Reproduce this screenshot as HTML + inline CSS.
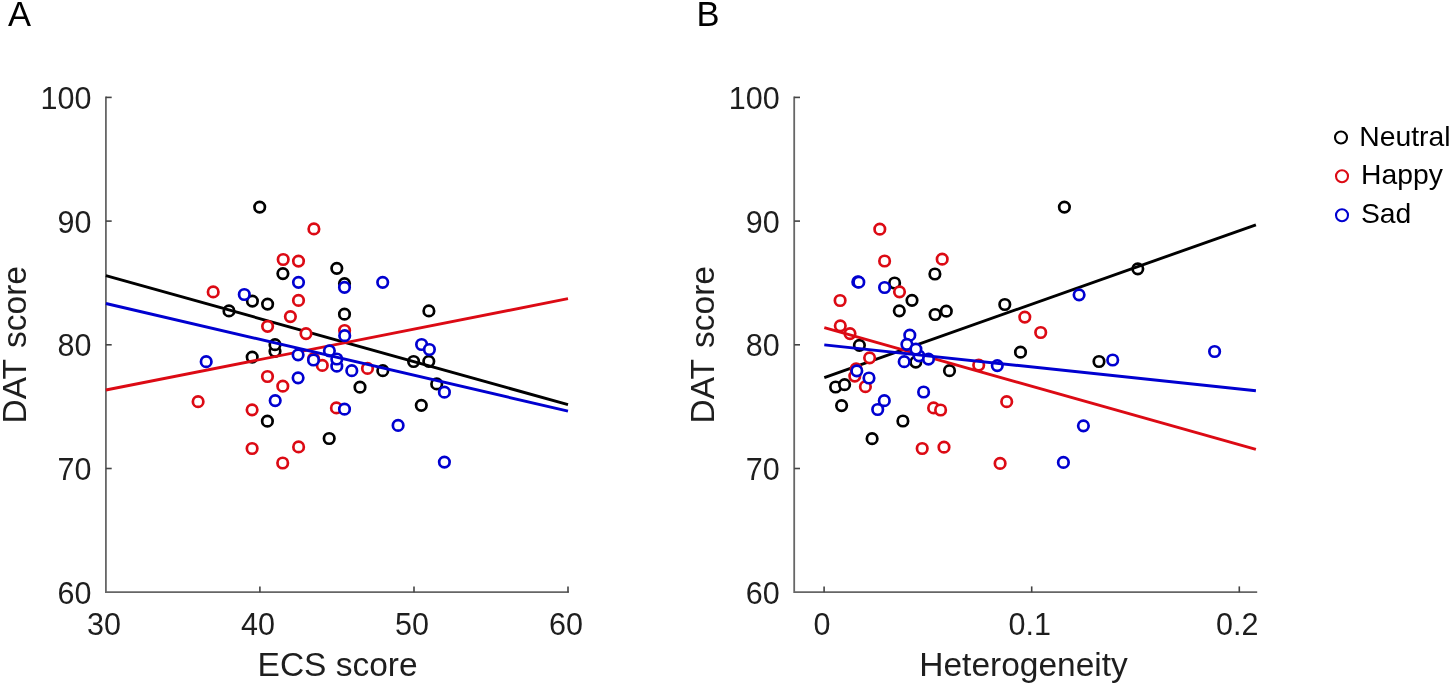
<!DOCTYPE html>
<html><head><meta charset="utf-8"><style>
html,body{margin:0;padding:0;background:#fff;}
body{width:1450px;height:686px;overflow:hidden;}
svg{display:block;filter:blur(0.4px);}
text{font-family:"Liberation Sans",sans-serif;fill:#1e1e1e;}
.k{fill:#000;}
</style></head><body>
<svg width="1450" height="686" viewBox="0 0 1450 686">
<rect width="1450" height="686" fill="#fff"/>
<path d="M105.9 97.4V592.2H568.0" stroke="#666" stroke-width="1.8" fill="none" stroke-linejoin="miter" stroke-linecap="square"/>
<text x="91.4" y="603.8" font-size="30.5" text-anchor="end">60</text>
<line x1="105.9" y1="468.5" x2="111.7" y2="468.5" stroke="#444" stroke-width="1.6"/>
<text x="91.4" y="480.1" font-size="30.5" text-anchor="end">70</text>
<line x1="105.9" y1="344.8" x2="111.7" y2="344.8" stroke="#444" stroke-width="1.6"/>
<text x="91.4" y="356.4" font-size="30.5" text-anchor="end">80</text>
<line x1="105.9" y1="221.1" x2="111.7" y2="221.1" stroke="#444" stroke-width="1.6"/>
<text x="91.4" y="232.7" font-size="30.5" text-anchor="end">90</text>
<line x1="105.9" y1="97.4" x2="111.7" y2="97.4" stroke="#444" stroke-width="1.6"/>
<text x="91.4" y="109.0" font-size="30.5" text-anchor="end">100</text>
<text x="103.9" y="634.8" font-size="30.5" text-anchor="middle">30</text>
<line x1="259.9" y1="592.2" x2="259.9" y2="586.4" stroke="#444" stroke-width="1.6"/>
<text x="257.9" y="634.8" font-size="30.5" text-anchor="middle">40</text>
<line x1="414.0" y1="592.2" x2="414.0" y2="586.4" stroke="#444" stroke-width="1.6"/>
<text x="412.0" y="634.8" font-size="30.5" text-anchor="middle">50</text>
<line x1="568.0" y1="592.2" x2="568.0" y2="586.4" stroke="#444" stroke-width="1.6"/>
<text x="566.0" y="634.8" font-size="30.5" text-anchor="middle">60</text>
<text x="337.6" y="676.3" font-size="33.5" text-anchor="middle">ECS score</text>
<text x="0" y="0" font-size="33.5" text-anchor="start" transform="translate(25.6,423.5) rotate(-90)">DAT</text>
<text x="0" y="0" font-size="33.5" text-anchor="end" transform="translate(25.6,266.0) rotate(-90)">score</text>
<circle cx="259.7" cy="207.1" r="5.25" stroke="#000" stroke-width="2.7" fill="#fff"/>
<circle cx="282.9" cy="273.6" r="5.25" stroke="#000" stroke-width="2.7" fill="#fff"/>
<circle cx="336.8" cy="268.3" r="5.25" stroke="#000" stroke-width="2.7" fill="#fff"/>
<circle cx="344.5" cy="283.6" r="5.25" stroke="#000" stroke-width="2.7" fill="#fff"/>
<circle cx="252.4" cy="301.1" r="5.25" stroke="#000" stroke-width="2.7" fill="#fff"/>
<circle cx="267.6" cy="304.1" r="5.25" stroke="#000" stroke-width="2.7" fill="#fff"/>
<circle cx="229.0" cy="310.9" r="5.25" stroke="#000" stroke-width="2.7" fill="#fff"/>
<circle cx="344.5" cy="314.2" r="5.25" stroke="#000" stroke-width="2.7" fill="#fff"/>
<circle cx="428.9" cy="310.9" r="5.25" stroke="#000" stroke-width="2.7" fill="#fff"/>
<circle cx="275.0" cy="351.3" r="5.25" stroke="#000" stroke-width="2.7" fill="#fff"/>
<circle cx="275.0" cy="344.7" r="5.25" stroke="#000" stroke-width="2.7" fill="#fff"/>
<circle cx="252.2" cy="357.1" r="5.25" stroke="#000" stroke-width="2.7" fill="#fff"/>
<circle cx="413.6" cy="361.5" r="5.25" stroke="#000" stroke-width="2.7" fill="#fff"/>
<circle cx="428.8" cy="361.3" r="5.25" stroke="#000" stroke-width="2.7" fill="#fff"/>
<circle cx="382.8" cy="370.7" r="5.25" stroke="#000" stroke-width="2.7" fill="#fff"/>
<circle cx="436.7" cy="383.9" r="5.25" stroke="#000" stroke-width="2.7" fill="#fff"/>
<circle cx="360.0" cy="387.2" r="5.25" stroke="#000" stroke-width="2.7" fill="#fff"/>
<circle cx="421.3" cy="405.3" r="5.25" stroke="#000" stroke-width="2.7" fill="#fff"/>
<circle cx="267.4" cy="421.2" r="5.25" stroke="#000" stroke-width="2.7" fill="#fff"/>
<circle cx="329.2" cy="438.5" r="5.25" stroke="#000" stroke-width="2.7" fill="#fff"/>
<line x1="105.9" y1="275.6" x2="568.0" y2="404.7" stroke="#000" stroke-width="2.9"/>
<circle cx="313.9" cy="228.9" r="5.25" stroke="#dc0a14" stroke-width="2.7" fill="#fff"/>
<circle cx="283.2" cy="259.5" r="5.25" stroke="#dc0a14" stroke-width="2.7" fill="#fff"/>
<circle cx="298.5" cy="261.1" r="5.25" stroke="#dc0a14" stroke-width="2.7" fill="#fff"/>
<circle cx="213.2" cy="291.9" r="5.25" stroke="#dc0a14" stroke-width="2.7" fill="#fff"/>
<circle cx="298.5" cy="300.4" r="5.25" stroke="#dc0a14" stroke-width="2.7" fill="#fff"/>
<circle cx="290.4" cy="316.6" r="5.25" stroke="#dc0a14" stroke-width="2.7" fill="#fff"/>
<circle cx="267.6" cy="326.3" r="5.25" stroke="#dc0a14" stroke-width="2.7" fill="#fff"/>
<circle cx="306.0" cy="333.6" r="5.25" stroke="#dc0a14" stroke-width="2.7" fill="#fff"/>
<circle cx="344.6" cy="330.5" r="5.25" stroke="#dc0a14" stroke-width="2.7" fill="#fff"/>
<circle cx="313.6" cy="358.6" r="5.25" stroke="#dc0a14" stroke-width="2.7" fill="#fff"/>
<circle cx="322.3" cy="365.4" r="5.25" stroke="#dc0a14" stroke-width="2.7" fill="#fff"/>
<circle cx="367.5" cy="368.4" r="5.25" stroke="#dc0a14" stroke-width="2.7" fill="#fff"/>
<circle cx="267.5" cy="376.5" r="5.25" stroke="#dc0a14" stroke-width="2.7" fill="#fff"/>
<circle cx="282.8" cy="386.2" r="5.25" stroke="#dc0a14" stroke-width="2.7" fill="#fff"/>
<circle cx="198.1" cy="401.7" r="5.25" stroke="#dc0a14" stroke-width="2.7" fill="#fff"/>
<circle cx="252.1" cy="409.8" r="5.25" stroke="#dc0a14" stroke-width="2.7" fill="#fff"/>
<circle cx="336.4" cy="407.9" r="5.25" stroke="#dc0a14" stroke-width="2.7" fill="#fff"/>
<circle cx="252.1" cy="448.5" r="5.25" stroke="#dc0a14" stroke-width="2.7" fill="#fff"/>
<circle cx="298.6" cy="446.9" r="5.25" stroke="#dc0a14" stroke-width="2.7" fill="#fff"/>
<circle cx="282.7" cy="463.0" r="5.25" stroke="#dc0a14" stroke-width="2.7" fill="#fff"/>
<line x1="105.9" y1="390.0" x2="568.0" y2="298.7" stroke="#dc0a14" stroke-width="2.9"/>
<circle cx="244.3" cy="294.5" r="5.25" stroke="#0000d0" stroke-width="2.7" fill="#fff"/>
<circle cx="298.5" cy="282.3" r="5.25" stroke="#0000d0" stroke-width="2.7" fill="#fff"/>
<circle cx="344.5" cy="287.3" r="5.25" stroke="#0000d0" stroke-width="2.7" fill="#fff"/>
<circle cx="382.7" cy="282.3" r="5.25" stroke="#0000d0" stroke-width="2.7" fill="#fff"/>
<circle cx="344.7" cy="335.7" r="5.25" stroke="#0000d0" stroke-width="2.7" fill="#fff"/>
<circle cx="298.1" cy="354.8" r="5.25" stroke="#0000d0" stroke-width="2.7" fill="#fff"/>
<circle cx="313.5" cy="360.0" r="5.25" stroke="#0000d0" stroke-width="2.7" fill="#fff"/>
<circle cx="329.4" cy="350.8" r="5.25" stroke="#0000d0" stroke-width="2.7" fill="#fff"/>
<circle cx="336.8" cy="366.2" r="5.25" stroke="#0000d0" stroke-width="2.7" fill="#fff"/>
<circle cx="336.8" cy="359.0" r="5.25" stroke="#0000d0" stroke-width="2.7" fill="#fff"/>
<circle cx="351.8" cy="370.7" r="5.25" stroke="#0000d0" stroke-width="2.7" fill="#fff"/>
<circle cx="298.1" cy="377.8" r="5.25" stroke="#0000d0" stroke-width="2.7" fill="#fff"/>
<circle cx="206.2" cy="361.7" r="5.25" stroke="#0000d0" stroke-width="2.7" fill="#fff"/>
<circle cx="275.2" cy="400.6" r="5.25" stroke="#0000d0" stroke-width="2.7" fill="#fff"/>
<circle cx="344.5" cy="409.2" r="5.25" stroke="#0000d0" stroke-width="2.7" fill="#fff"/>
<circle cx="398.1" cy="425.4" r="5.25" stroke="#0000d0" stroke-width="2.7" fill="#fff"/>
<circle cx="421.6" cy="344.5" r="5.25" stroke="#0000d0" stroke-width="2.7" fill="#fff"/>
<circle cx="429.4" cy="349.5" r="5.25" stroke="#0000d0" stroke-width="2.7" fill="#fff"/>
<circle cx="444.4" cy="392.2" r="5.25" stroke="#0000d0" stroke-width="2.7" fill="#fff"/>
<circle cx="444.4" cy="462.1" r="5.25" stroke="#0000d0" stroke-width="2.7" fill="#fff"/>
<line x1="105.9" y1="303.5" x2="568.0" y2="411.1" stroke="#0000d0" stroke-width="2.9"/>
<path d="M794.2 97.4V592.2H1256.3" stroke="#666" stroke-width="1.8" fill="none" stroke-linejoin="miter" stroke-linecap="square"/>
<text x="779.7" y="603.8" font-size="30.5" text-anchor="end">60</text>
<line x1="794.2" y1="468.5" x2="800.0" y2="468.5" stroke="#444" stroke-width="1.6"/>
<text x="779.7" y="480.1" font-size="30.5" text-anchor="end">70</text>
<line x1="794.2" y1="344.8" x2="800.0" y2="344.8" stroke="#444" stroke-width="1.6"/>
<text x="779.7" y="356.4" font-size="30.5" text-anchor="end">80</text>
<line x1="794.2" y1="221.1" x2="800.0" y2="221.1" stroke="#444" stroke-width="1.6"/>
<text x="779.7" y="232.7" font-size="30.5" text-anchor="end">90</text>
<line x1="794.2" y1="97.4" x2="800.0" y2="97.4" stroke="#444" stroke-width="1.6"/>
<text x="779.7" y="109.0" font-size="30.5" text-anchor="end">100</text>
<line x1="824.1" y1="592.2" x2="824.1" y2="586.4" stroke="#444" stroke-width="1.6"/>
<text x="822.1" y="634.8" font-size="30.5" text-anchor="middle">0</text>
<line x1="1031.7" y1="592.2" x2="1031.7" y2="586.4" stroke="#444" stroke-width="1.6"/>
<text x="1029.7" y="634.8" font-size="30.5" text-anchor="middle">0.1</text>
<line x1="1239.3" y1="592.2" x2="1239.3" y2="586.4" stroke="#444" stroke-width="1.6"/>
<text x="1237.3" y="634.8" font-size="30.5" text-anchor="middle">0.2</text>
<text x="1023.6" y="676.3" font-size="33.5" text-anchor="middle">Heterogeneity</text>
<text x="0" y="0" font-size="33.5" text-anchor="start" transform="translate(713.9,423.5) rotate(-90)">DAT</text>
<text x="0" y="0" font-size="33.5" text-anchor="end" transform="translate(713.9,266.0) rotate(-90)">score</text>
<circle cx="1064.4" cy="207.1" r="5.25" stroke="#000" stroke-width="2.7" fill="#fff"/>
<circle cx="934.9" cy="274.0" r="5.25" stroke="#000" stroke-width="2.7" fill="#fff"/>
<circle cx="894.6" cy="283.0" r="5.25" stroke="#000" stroke-width="2.7" fill="#fff"/>
<circle cx="912.0" cy="300.3" r="5.25" stroke="#000" stroke-width="2.7" fill="#fff"/>
<circle cx="899.3" cy="310.8" r="5.25" stroke="#000" stroke-width="2.7" fill="#fff"/>
<circle cx="935.1" cy="314.5" r="5.25" stroke="#000" stroke-width="2.7" fill="#fff"/>
<circle cx="946.3" cy="311.2" r="5.25" stroke="#000" stroke-width="2.7" fill="#fff"/>
<circle cx="1004.8" cy="304.5" r="5.25" stroke="#000" stroke-width="2.7" fill="#fff"/>
<circle cx="1137.8" cy="268.8" r="5.25" stroke="#000" stroke-width="2.7" fill="#fff"/>
<circle cx="859.4" cy="345.3" r="5.25" stroke="#000" stroke-width="2.7" fill="#fff"/>
<circle cx="915.8" cy="362.1" r="5.25" stroke="#000" stroke-width="2.7" fill="#fff"/>
<circle cx="949.5" cy="370.7" r="5.25" stroke="#000" stroke-width="2.7" fill="#fff"/>
<circle cx="1020.5" cy="352.2" r="5.25" stroke="#000" stroke-width="2.7" fill="#fff"/>
<circle cx="1099.0" cy="361.5" r="5.25" stroke="#000" stroke-width="2.7" fill="#fff"/>
<circle cx="835.6" cy="387.0" r="5.25" stroke="#000" stroke-width="2.7" fill="#fff"/>
<circle cx="844.6" cy="384.7" r="5.25" stroke="#000" stroke-width="2.7" fill="#fff"/>
<circle cx="841.6" cy="405.6" r="5.25" stroke="#000" stroke-width="2.7" fill="#fff"/>
<circle cx="902.9" cy="421.0" r="5.25" stroke="#000" stroke-width="2.7" fill="#fff"/>
<circle cx="872.1" cy="438.7" r="5.25" stroke="#000" stroke-width="2.7" fill="#fff"/>
<line x1="824.3" y1="377.6" x2="1255.9" y2="224.8" stroke="#000" stroke-width="2.9"/>
<circle cx="879.8" cy="229.2" r="5.25" stroke="#dc0a14" stroke-width="2.7" fill="#fff"/>
<circle cx="884.6" cy="261.0" r="5.25" stroke="#dc0a14" stroke-width="2.7" fill="#fff"/>
<circle cx="942.2" cy="259.2" r="5.25" stroke="#dc0a14" stroke-width="2.7" fill="#fff"/>
<circle cx="840.1" cy="300.5" r="5.25" stroke="#dc0a14" stroke-width="2.7" fill="#fff"/>
<circle cx="899.5" cy="291.8" r="5.25" stroke="#dc0a14" stroke-width="2.7" fill="#fff"/>
<circle cx="840.3" cy="325.8" r="5.25" stroke="#dc0a14" stroke-width="2.7" fill="#fff"/>
<circle cx="850.0" cy="333.6" r="5.25" stroke="#dc0a14" stroke-width="2.7" fill="#fff"/>
<circle cx="869.6" cy="357.8" r="5.25" stroke="#dc0a14" stroke-width="2.7" fill="#fff"/>
<circle cx="1024.8" cy="317.1" r="5.25" stroke="#dc0a14" stroke-width="2.7" fill="#fff"/>
<circle cx="1040.7" cy="332.5" r="5.25" stroke="#dc0a14" stroke-width="2.7" fill="#fff"/>
<circle cx="978.7" cy="365.0" r="5.25" stroke="#dc0a14" stroke-width="2.7" fill="#fff"/>
<circle cx="856.1" cy="368.9" r="5.25" stroke="#dc0a14" stroke-width="2.7" fill="#fff"/>
<circle cx="854.8" cy="376.1" r="5.25" stroke="#dc0a14" stroke-width="2.7" fill="#fff"/>
<circle cx="865.4" cy="386.7" r="5.25" stroke="#dc0a14" stroke-width="2.7" fill="#fff"/>
<circle cx="1006.7" cy="401.7" r="5.25" stroke="#dc0a14" stroke-width="2.7" fill="#fff"/>
<circle cx="933.6" cy="407.9" r="5.25" stroke="#dc0a14" stroke-width="2.7" fill="#fff"/>
<circle cx="940.6" cy="410.0" r="5.25" stroke="#dc0a14" stroke-width="2.7" fill="#fff"/>
<circle cx="922.2" cy="448.5" r="5.25" stroke="#dc0a14" stroke-width="2.7" fill="#fff"/>
<circle cx="944.0" cy="447.2" r="5.25" stroke="#dc0a14" stroke-width="2.7" fill="#fff"/>
<circle cx="1000.1" cy="463.4" r="5.25" stroke="#dc0a14" stroke-width="2.7" fill="#fff"/>
<line x1="824.3" y1="327.7" x2="1255.9" y2="449.4" stroke="#dc0a14" stroke-width="2.9"/>
<circle cx="857.8" cy="281.9" r="5.25" stroke="#0000d0" stroke-width="2.7" fill="#fff"/>
<circle cx="858.8" cy="282.2" r="5.25" stroke="#0000d0" stroke-width="2.7" fill="#fff"/>
<circle cx="884.6" cy="287.5" r="5.25" stroke="#0000d0" stroke-width="2.7" fill="#fff"/>
<circle cx="1079.1" cy="294.8" r="5.25" stroke="#0000d0" stroke-width="2.7" fill="#fff"/>
<circle cx="909.8" cy="335.2" r="5.25" stroke="#0000d0" stroke-width="2.7" fill="#fff"/>
<circle cx="906.9" cy="344.3" r="5.25" stroke="#0000d0" stroke-width="2.7" fill="#fff"/>
<circle cx="919.0" cy="355.8" r="5.25" stroke="#0000d0" stroke-width="2.7" fill="#fff"/>
<circle cx="915.9" cy="349.1" r="5.25" stroke="#0000d0" stroke-width="2.7" fill="#fff"/>
<circle cx="904.2" cy="361.7" r="5.25" stroke="#0000d0" stroke-width="2.7" fill="#fff"/>
<circle cx="928.5" cy="359.1" r="5.25" stroke="#0000d0" stroke-width="2.7" fill="#fff"/>
<circle cx="856.8" cy="370.8" r="5.25" stroke="#0000d0" stroke-width="2.7" fill="#fff"/>
<circle cx="869.0" cy="378.0" r="5.25" stroke="#0000d0" stroke-width="2.7" fill="#fff"/>
<circle cx="997.3" cy="365.6" r="5.25" stroke="#0000d0" stroke-width="2.7" fill="#fff"/>
<circle cx="884.3" cy="400.7" r="5.25" stroke="#0000d0" stroke-width="2.7" fill="#fff"/>
<circle cx="877.7" cy="409.5" r="5.25" stroke="#0000d0" stroke-width="2.7" fill="#fff"/>
<circle cx="923.6" cy="392.0" r="5.25" stroke="#0000d0" stroke-width="2.7" fill="#fff"/>
<circle cx="1083.4" cy="425.8" r="5.25" stroke="#0000d0" stroke-width="2.7" fill="#fff"/>
<circle cx="1063.4" cy="462.4" r="5.25" stroke="#0000d0" stroke-width="2.7" fill="#fff"/>
<circle cx="1112.7" cy="360.0" r="5.25" stroke="#0000d0" stroke-width="2.7" fill="#fff"/>
<circle cx="1214.6" cy="351.5" r="5.25" stroke="#0000d0" stroke-width="2.7" fill="#fff"/>
<line x1="824.3" y1="344.9" x2="1255.9" y2="390.7" stroke="#0000d0" stroke-width="2.9"/>
<text x="8.0" y="25.8" font-size="34.5" text-anchor="start" class="k">A</text>
<text x="696.6" y="25.8" font-size="34.5" text-anchor="start" class="k">B</text>
<circle cx="1341.0" cy="137.5" r="6.0" stroke="#000" stroke-width="2.1" fill="#fff"/>
<text x="1359.3" y="146.0" font-size="28.3" text-anchor="start" class="k">Neutral</text>
<circle cx="1342.0" cy="176.3" r="6.0" stroke="#dc0a14" stroke-width="2.1" fill="#fff"/>
<text x="1361.0" y="184.2" font-size="28.3" text-anchor="start" class="k">Happy</text>
<circle cx="1342.0" cy="215.2" r="6.0" stroke="#0000d0" stroke-width="2.1" fill="#fff"/>
<text x="1361.0" y="222.7" font-size="28.3" text-anchor="start" class="k">Sad</text>
</svg>
</body></html>
